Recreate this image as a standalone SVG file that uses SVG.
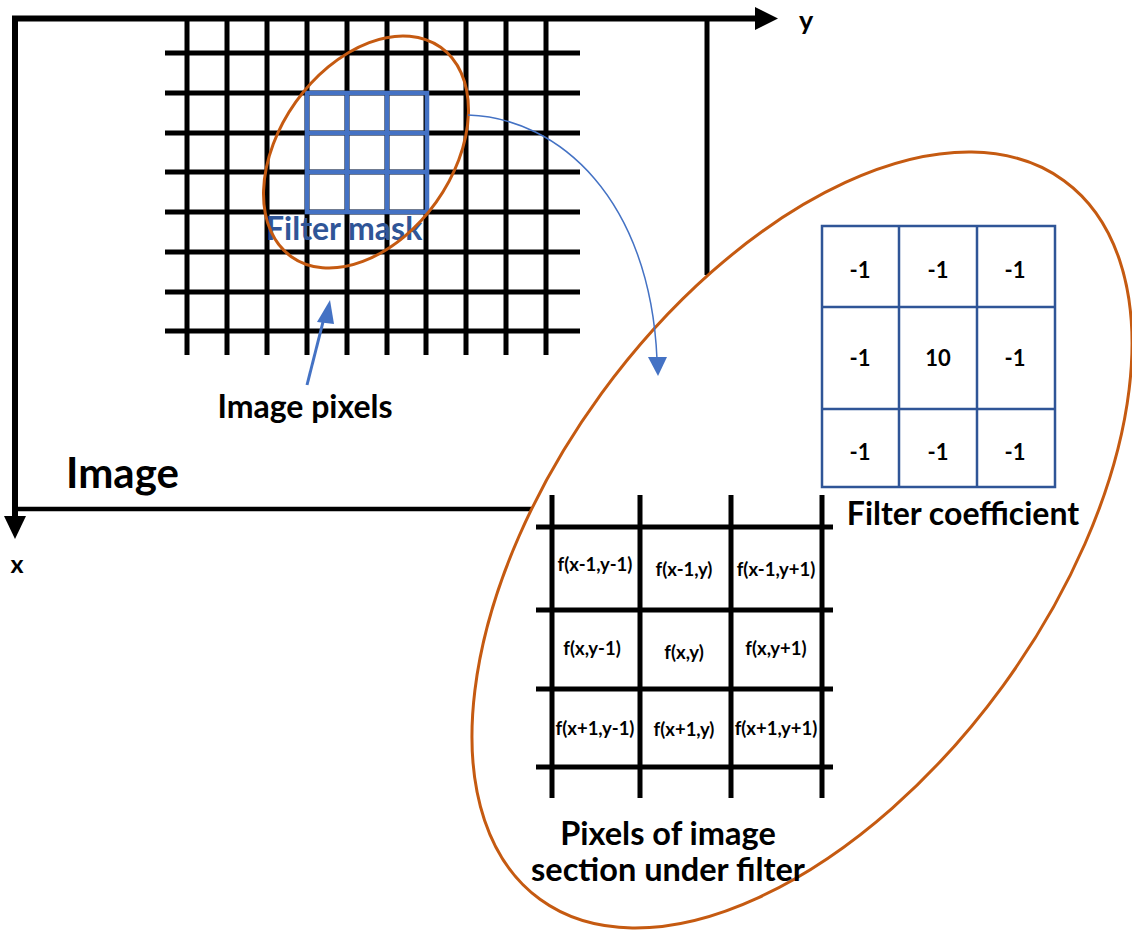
<svg xmlns="http://www.w3.org/2000/svg" width="1132" height="933" viewBox="0 0 1132 933">
<defs>
<style>
.bk{stroke:#000;stroke-width:5;fill:none;stroke-linecap:butt}
.mask{stroke:#4472C4;stroke-width:4.5;fill:none}
.coef{stroke:#2F5597;stroke-width:2.5;fill:none}
.orange{stroke:#C55A11;stroke-width:3;fill:none}
.t{font-family:Lato,"Liberation Sans",sans-serif;font-weight:bold;fill:#000}
.num{font-size:22px;text-anchor:middle}
.fx{font-size:18.5px;text-anchor:middle}
</style>
</defs>
<rect width="1132" height="933" fill="#fff"/>

<g id="image-grid">
<path class="bk" d="M165,53H580M165,93H580M165,133H580M165,172H580M165,212H580M165,252H580M165,292H580M165,331H580"/>
<path class="bk" d="M187,18V355M227,18V355M267,18V355M307,18V355M347,18V355M387,18V355M426,18V355M466,18V355M506,18V355M546,18V355"/>
</g>

<g id="image-frame">
<path d="M12,18.5H758" stroke="#000" stroke-width="6"/>
<polygon points="755,7 778,18.5 755,30" fill="#000"/>
<path d="M15,16V520" stroke="#000" stroke-width="6"/>
<polygon points="4,516 26,516 15,539" fill="#000"/>
<path d="M15,509H532" stroke="#000" stroke-width="4.5"/>
<path d="M707,16V275" stroke="#000" stroke-width="5"/>
<text class="t" x="806" y="30" font-size="27" text-anchor="middle">y</text>
<text class="t" x="17" y="573" font-size="25" text-anchor="middle">x</text>
<text class="t" x="66" y="488" font-size="42">Image</text>
</g>

<g id="filter-mask">
<rect class="mask" x="307" y="93" width="120" height="119"/>
<path class="mask" d="M347,93V212M387,93V212M307,133H427M307,172H427"/>
<text class="t" x="266" y="240" font-size="32" style="fill:#2F5597">Filter mask</text>
<ellipse class="orange" cx="366" cy="152" rx="128.6" ry="86.2" transform="rotate(-54.5 366 152)"/>
</g>

<g id="image-pixels-label">
<text class="t" x="305" y="418" font-size="32" text-anchor="middle">Image pixels</text>
</g>

<g id="zoom-ellipse">
<ellipse class="orange" cx="802" cy="540" rx="444.7" ry="248.3" transform="rotate(-53.9 802 540)"/>
</g>

<g id="filter-coefficient">
<rect class="coef" x="822" y="226" width="233" height="261"/>
<path class="coef" d="M899,226V487M977,226V487M822,307H1055M822,409H1055"/>
<text class="t num" x="860" y="278">-1</text>
<text class="t num" x="938" y="278">-1</text>
<text class="t num" x="1015" y="278">-1</text>
<text class="t num" x="860" y="366">-1</text>
<text class="t num" x="938" y="366">10</text>
<text class="t num" x="1015" y="366">-1</text>
<text class="t num" x="860" y="460">-1</text>
<text class="t num" x="938" y="460">-1</text>
<text class="t num" x="1015" y="460">-1</text>
<text class="t" x="963" y="525" font-size="32" text-anchor="middle">Filter coefficient</text>
</g>

<g id="pixel-section">
<path class="bk" d="M536,527H833M536,610H833M536,689H833M536,767H833"/>
<path class="bk" d="M552,495V798M640,495V798M731,495V798M822,495V798"/>
<text class="t fx" x="595" y="571">f(x-1,y-1)</text>
<text class="t fx" x="684" y="576">f(x-1,y)</text>
<text class="t fx" x="776" y="576">f(x-1,y+1)</text>
<text class="t fx" x="592" y="655">f(x,y-1)</text>
<text class="t fx" x="684" y="659">f(x,y)</text>
<text class="t fx" x="776" y="655">f(x,y+1)</text>
<text class="t fx" x="595" y="735">f(x+1,y-1)</text>
<text class="t fx" x="684" y="736">f(x+1,y)</text>
<text class="t fx" x="776" y="735">f(x+1,y+1)</text>
<text class="t" x="668" y="845" font-size="32.5" text-anchor="middle">Pixels of image</text>
<text class="t" x="668" y="881" font-size="32.5" text-anchor="middle">section under filter</text>
</g>

<g id="connectors">
<path d="M468,115C560,118 650,200 657,359" stroke="#4472C4" stroke-width="1.5" fill="none"/>
<polygon points="648,357 667,357 658,376" fill="#4472C4"/>
<path d="M307,385L324,318" stroke="#4472C4" stroke-width="3" fill="none"/>
<polygon points="317,322 334,324 330,300" fill="#4472C4"/>
</g>
</svg>
